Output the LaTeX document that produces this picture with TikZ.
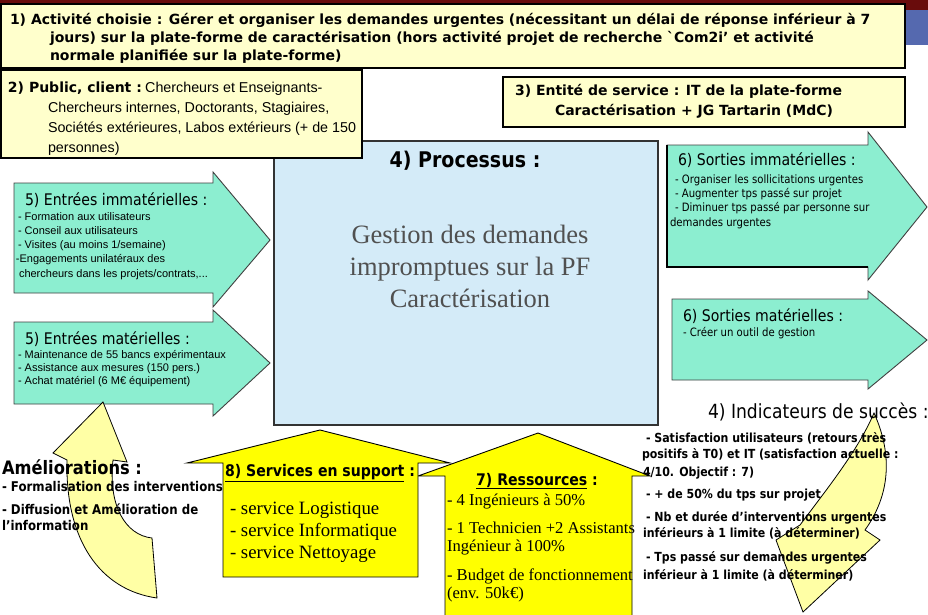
\documentclass[tikz,border=0pt]{standalone}
\usepackage{fontspec}
\setmainfont{Liberation Serif}
\newfontfamily\vsans{DejaVu Sans}
\newfontfamily\vcond[FakeStretch=0.88]{DejaVu Sans}
\newfontfamily\lsans{Liberation Sans}
\definecolor{paleyel}{RGB}{255,255,204}
\definecolor{mint}{RGB}{140,238,208}
\definecolor{procblue}{RGB}{212,235,248}
\definecolor{brightyel}{RGB}{255,255,0}
\definecolor{softyel}{RGB}{255,255,165}
\definecolor{darkred}{RGB}{105,12,12}
\definecolor{slideblue}{RGB}{85,105,175}
\definecolor{serifgray}{RGB}{80,80,80}
\begin{document}
\begin{tikzpicture}[x=1pt,y=-1pt,
  txt/.style={anchor=base west,inner sep=0pt,outer sep=0pt},
  ctxt/.style={anchor=base,inner sep=0pt,outer sep=0pt},
  ybox/.style={draw=black,line width=1.5pt,fill=paleyel},
  mintarrow/.style={draw=black!75,line width=0.9pt,fill=mint,line join=miter},
  yarrow/.style={draw=black,line width=0.9pt,fill=brightyel},
  curvarrow/.style={draw=black,line width=0.8pt,fill=softyel},
  bsans/.style={font=\vsans\bfseries\fontsize{14}{16}\selectfont},
  narrowtxt/.style={font=\lsans\fontsize{14.3}{16}\selectfont},
  intxt/.style={font=\lsans\fontsize{11}{13}\selectfont},
  headtxt/.style={font=\vcond\fontsize{16}{18}\selectfont},
  outtxt/.style={font=\vcond\fontsize{11.5}{13}\selectfont},
  indtxt/.style={font=\vcond\bfseries\fontsize{12.5}{14}\selectfont},
  ameltxt/.style={font=\vcond\bfseries\fontsize{13.4}{15}\selectfont},
  sertxt/.style={font=\fontsize{18.8}{21}\selectfont},
  restxt/.style={font=\fontsize{16.6}{19}\selectfont},
  proctxt/.style={font=\fontsize{26.5}{30}\selectfont,text=serifgray},
  ttl/.style={font=\vcond\bfseries\fontsize{16}{18}\selectfont}
]
\useasboundingbox (0,0) rectangle (928,614);
\fill[white] (0,0) rectangle (928,614);
% slide decorations
\fill[darkred] (0,0) rectangle (928,4);
\fill[darkred] (905,0) rectangle (928,10);
\fill[slideblue] (905,10) rectangle (928,45);

% process box
\draw[draw=black!80,line width=1.2pt,fill=procblue] (274,141) rectangle (658,425);
\node[ctxt,font=\vcond\bfseries\fontsize{21.6}{24}\selectfont] (proc) at (465,167) {4) Processus :};
\node[ctxt,proctxt] (g1) at (470,243) {Gestion des demandes};
\node[ctxt,proctxt] (g2) at (470,275) {impromptues sur la PF};
\node[ctxt,proctxt] (g3) at (470,307) {Caractérisation};

% box 1
\draw[ybox] (1,4) rectangle (905,68);
\node[txt,bsans] (a1) at (10,24) {1) Activité choisie : Gérer et organiser les demandes urgentes (nécessitant un délai de réponse inférieur à 7};
\node[txt,bsans] (a2) at (50,42) {jours) sur la plate-forme de caractérisation (hors activité projet de recherche `Com2i’ et activité};
\node[txt,bsans] (a3) at (50,60) {normale planifiée sur la plate-forme)};

% box 2
\draw[ybox] (1,70) rectangle (362,158);
\node[txt] (p1) at (8,92) {{\vsans\bfseries\fontsize{14}{16}\selectfont 2) Public, client :} {\lsans\fontsize{14.3}{16}\selectfont Chercheurs et Enseignants-}};
\node[txt,narrowtxt] (p2) at (48,112) {Chercheurs internes, Doctorants, Stagiaires,};
\node[txt,narrowtxt] (p3) at (48,132) {Sociétés extérieures, Labos extérieurs (+ de 150};
\node[txt,narrowtxt] (p4) at (48,152) {personnes)};

% box 3
\draw[ybox] (503,77) rectangle (905,127);
\node[txt,bsans] (e1) at (515,95) {3) Entité de service : IT de la plate-forme};
\node[txt,bsans] (e2) at (555,115) {Caractérisation + JG Tartarin (MdC)};

% input arrows
\draw[mintarrow] (14,183) -- (213,183) -- (213,172) -- (270,240) -- (213,307) -- (213,293) -- (14,293) -- cycle;
\node[txt,headtxt] (i1) at (25,205) {5) Entrées immatérielles :};
\node[txt,intxt] (i2) at (18,220) {- Formation aux utilisateurs};
\node[txt,intxt] (i3) at (18,234) {- Conseil aux utilisateurs};
\node[txt,intxt] (i4) at (18,248) {- Visites (au moins 1/semaine)};
\node[txt,intxt] (i5) at (16,262) {-Engagements unilatéraux des};
\node[txt,intxt] (i6) at (19,277) {chercheurs dans les projets/contrats,...};

\draw[mintarrow] (14,322) -- (213,322) -- (213,310) -- (270,363) -- (213,416) -- (213,404) -- (14,404) -- cycle;
\node[txt,headtxt] (m1) at (25,344) {5) Entrées matérielles :};
\node[txt,intxt] (m2) at (18,358) {- Maintenance de 55 bancs expérimentaux};
\node[txt,intxt] (m3) at (18,371) {- Assistance aux mesures (150 pers.)};
\node[txt,intxt] (m4) at (18,384) {- Achat matériel (6 M€ équipement)};

% output arrows
\draw[mintarrow] (667,145) -- (868,145) -- (868,132) -- (927,207) -- (868,280) -- (868,267) -- (667,267) -- cycle;
\draw[black,line width=1.6pt] (667,145) -- (667,267) -- (868,267);
\node[txt,headtxt] (o1) at (678,165) {6) Sorties immatérielles :};
\node[txt,outtxt] (o2) at (675,183) {- Organiser les sollicitations urgentes};
\node[txt,outtxt] (o3) at (675,197) {- Augmenter tps passé sur projet};
\node[txt,outtxt] (o4) at (675,211) {- Diminuer tps passé par personne sur};
\node[txt,outtxt] (o5) at (670,226) {demandes urgentes};

\draw[mintarrow] (672,299) -- (868,299) -- (868,291) -- (927,340) -- (868,389) -- (868,380) -- (672,380) -- cycle;
\node[txt,headtxt] (s1) at (683,321) {6) Sorties matérielles :};
\node[txt,outtxt] (s2) at (683,336) {- Créer un outil de gestion};

% curved arrows
\draw[curvarrow] (103,402) -- (127,462) -- (113,460) .. controls (108,505) and (125,535) .. (152,538) -- (157,598) .. controls (100,590) and (65,540) .. (67,460) -- (53,453) -- cycle;
\draw[curvarrow] (874,413) .. controls (893,455) and (890,495) .. (865,530) -- (880,540) -- (803,612) -- (776,540) -- (800,525) .. controls (830,485) and (858,450) .. (874,413) -- cycle;

% resources and services arrows
\draw[yarrow] (445,476) -- (418,476) -- (538,433) -- (650,476) -- (632,476) -- (632,616) -- (445,616) -- cycle;
\draw[yarrow] (223,463) -- (187,463) -- (320,430) -- (450,463) -- (418,463) -- (418,577) -- (223,577) -- cycle;

\node[ctxt,ttl] (sv0) at (320,476) {\underline{8) Services en support} :};
\node[txt,sertxt] (sv1) at (230,514) {- service Logistique};
\node[txt,sertxt] (sv2) at (230,536) {- service Informatique};
\node[txt,sertxt] (sv3) at (230,558) {- service Nettoyage};

\node[ctxt,ttl] (r0) at (537,485) {\underline{7) Ressources} :};
\node[txt,restxt] (r1) at (447,505) {- 4 Ingénieurs à 50\%};
\node[txt,restxt] (r2) at (447,533) {- 1 Technicien +2 Assistants};
\node[txt,restxt] (r3) at (447,551) {Ingénieur à 100\%};
\node[txt,restxt] (r4) at (447,580) {- Budget de fonctionnement};
\node[txt,restxt] (r5) at (447,598) {(env. 50k€)};

% ameliorations
\node[txt,font=\vcond\bfseries\fontsize{18.5}{20}\selectfont] (am0) at (2,474) {Améliorations :};
\node[txt,ameltxt] (am1) at (2,491) {- Formalisation des interventions};
\node[txt,ameltxt] (am2) at (2,514) {- Diffusion et Amélioration de};
\node[txt,ameltxt] (am3) at (2,530) {l’information};

% indicateurs
\node[txt,font=\vcond\fontsize{19.5}{22}\selectfont] (in0) at (708,418) {4) Indicateurs de succès :};
\node[txt,indtxt] (in1) at (646,442) {- Satisfaction utilisateurs (retours très};
\node[txt,indtxt] (in2) at (642,458) {positifs à T0) et IT (satisfaction actuelle :};
\node[txt,indtxt] (in3) at (643,476) {4/10. Objectif : 7)};
\node[txt,indtxt] (in4) at (646,498) {- + de 50\% du tps sur projet};
\node[txt,indtxt] (in5) at (646,521) {- Nb et durée d’interventions urgentes};
\node[txt,indtxt] (in6) at (643,537) {inférieurs à 1 limite (à déterminer)};
\node[txt,indtxt] (in7) at (646,561) {- Tps passé sur demandes urgentes};
\node[txt,indtxt] (in8) at (643,579) {inférieur à 1 limite (à déterminer)};
\end{tikzpicture}
\end{document}
